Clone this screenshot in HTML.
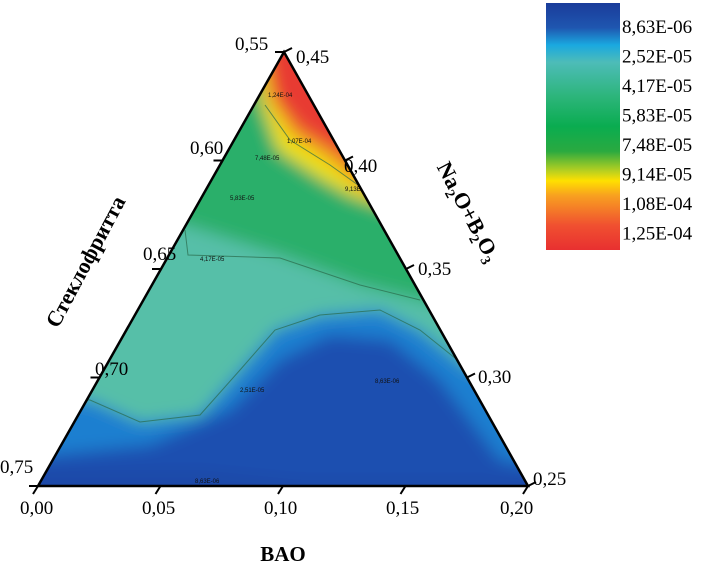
<!DOCTYPE html>
<html><head><meta charset="utf-8"><style>
body{margin:0;background:#fff;width:714px;height:572px;overflow:hidden;font-family:"Liberation Serif",serif}
svg{position:absolute;left:0;top:0}
</style></head><body>
<svg width="714" height="572">
<defs>
<clipPath id="tri"><polygon points="284,52 38,486 528,486"/></clipPath>
<filter id="bl" x="-20%" y="-20%" width="140%" height="140%"><feGaussianBlur stdDeviation="8"/></filter>
<linearGradient id="cb" x1="0" y1="0" x2="0" y2="1">
<stop offset="0" stop-color="#1a3c9a"/><stop offset="0.1" stop-color="#1f56b0"/><stop offset="0.17" stop-color="#1aa8e0"/><stop offset="0.24" stop-color="#4dbcb8"/><stop offset="0.38" stop-color="#2cb57a"/><stop offset="0.5" stop-color="#0aac50"/><stop offset="0.6" stop-color="#2aaa40"/><stop offset="0.68" stop-color="#b8d020"/><stop offset="0.72" stop-color="#ffe000"/><stop offset="0.78" stop-color="#f8a020"/><stop offset="0.9" stop-color="#f05030"/><stop offset="1" stop-color="#e83030"/>
</linearGradient>
</defs>
<g clip-path="url(#tri)">
<g filter="url(#bl)">
<rect x="0" y="0" width="714" height="572" fill="#2aaf6a"/>
<path d="M0,200 L185,225 L280,255 L360,285 L440,305 L560,320 L560,600 L0,600Z" fill="#56bfa8"/>
<path d="M0,395 L90,400 L140,422 L200,415 L240,370 L275,330 L320,315 L380,310 L420,330 L470,370 L560,380 L560,600 L0,600Z" fill="#1c7fd0"/>
<path d="M0,460 L150,445 L230,410 L280,360 L330,335 L390,340 L440,380 L500,460 L560,470 L560,600 L0,600Z" fill="#1e4fb0"/>
<path d="M0,470 L200,470 L300,480 L560,480 L560,600 L0,600Z" fill="#1f4aa8"/>
<path d="M250,40 L262,105 L278,150 L320,178 L350,195 L400,212 L450,230 L450,40Z" fill="#f0e010"/>
<path d="M258,40 L270,100 L292,135 L330,160 L365,190 L420,215 L420,40Z" fill="#f08a20"/>
<path d="M265,40 L276,98 L300,128 L340,152 L370,178 L420,190 L420,40Z" fill="#e83a30"/>
</g>
<g fill="none" stroke="#2a6a4a" stroke-width="1" opacity="0.7">
<path d="M40,395 L90,400 L140,422 L200,415 L240,370 L275,330 L320,315 L380,310 L420,330 L470,370"/>
<path d="M185,230 L188,255 L280,258 L360,285 L420,300"/>
<path d="M265,105 L290,140 L330,165 L365,190 L380,200"/>
</g>
<g font-size="6" font-family="Liberation Sans,sans-serif" fill="#111">
<text x="268" y="97">1,24E-04</text><text x="287" y="143">1,07E-04</text><text x="255" y="160">7,48E-05</text>
<text x="345" y="191">9,13E-05</text><text x="230" y="200">5,83E-05</text><text x="200" y="261">4,17E-05</text>
<text x="240" y="392">2,51E-05</text><text x="375" y="383">8,63E-06</text><text x="195" y="483">8,63E-06</text>
</g>
</g>
<polygon points="284,52 38,486 528,486" fill="none" stroke="#000" stroke-width="2.5"/>
<g id="ticks" stroke="#000" stroke-width="2"></g>
<g font-size="19" fill="#000">
<text x="20" y="514">0,00</text><text x="142" y="514">0,05</text><text x="264" y="514">0,10</text><text x="386" y="514">0,15</text><text x="500" y="514">0,20</text>
<text x="235" y="50">0,55</text><text x="190" y="154">0,60</text><text x="143" y="260">0,65</text><text x="95" y="375">0,70</text><text x="0" y="473">0,75</text>
<text x="296" y="63">0,45</text><text x="344" y="172">0,40</text><text x="418" y="275">0,35</text><text x="478" y="383">0,30</text><text x="533" y="485">0,25</text>
</g>
<text x="283" y="561" font-size="21" font-weight="bold" text-anchor="middle">BAO</text>
<text transform="translate(92,265) rotate(-62)" font-size="22" font-weight="bold" text-anchor="middle">Стеклофритта</text>
<text transform="translate(462,215) rotate(62)" font-size="22" font-weight="bold" text-anchor="middle">Na<tspan font-size="14" dy="5">2</tspan><tspan dy="-5">O+B</tspan><tspan font-size="14" dy="5">2</tspan><tspan dy="-5">O</tspan><tspan font-size="14" dy="5">3</tspan></text>
<rect x="546" y="3" width="74" height="247" fill="url(#cb)"/>
<g id="leg" font-size="19" fill="#000"></g>
</svg>
<script>
const legendLabels=["8,63E-06","2,52E-05","4,17E-05","5,83E-05","7,48E-05","9,14E-05","1,08E-04","1,25E-04"];
const tickValues=[0,0.25,0.5,0.75,1];
const NS="http://www.w3.org/2000/svg";
const leg=document.getElementById('leg');
legendLabels.forEach((t,i)=>{const e=document.createElementNS(NS,'text');
e.setAttribute('x',622);e.setAttribute('y',33+i*29.5);e.textContent=t;


leg.appendChild(e);});
const A=[284,52],L=[38,486],R=[528,486];
const tg=document.getElementById('ticks');
function tick(p,q,f,dx,dy){const x=p[0]+(q[0]-p[0])*f,y=p[1]+(q[1]-p[1])*f;
const l=document.createElementNS(NS,'line');l.setAttribute('x1',x);l.setAttribute('y1',y);l.setAttribute('x2',x+dx);l.setAttribute('y2',y+dy);


tg.appendChild(l);}
tickValues.forEach(f=>{tick(L,R,f,-5,8);tick(A,L,f,-9,0);tick(A,R,f,8,-4);});
</script>
</body></html>
